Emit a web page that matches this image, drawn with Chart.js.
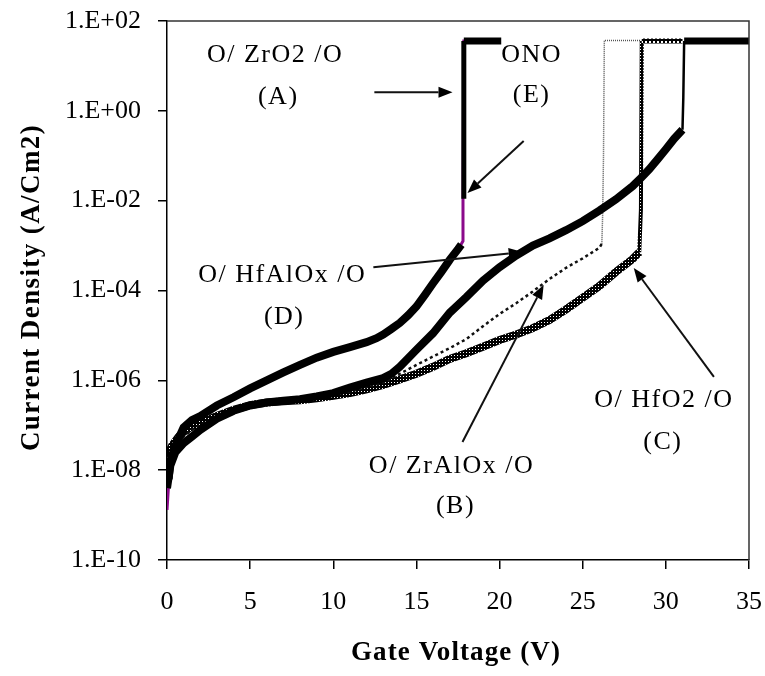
<!DOCTYPE html>
<html>
<head>
<meta charset="utf-8">
<script src="https://cdn.jsdelivr.net/npm/chart.js@4.4.1/dist/chart.umd.min.js"></script>
<style>
  html, body { margin: 0; padding: 0; background: #fff; }
  #wrap { width: 765px; height: 676px; }
</style>
</head>
<body>
<div id="wrap"><canvas id="c" width="765" height="676"></canvas></div>
<script>
// Gate voltage (V) and current density (A/cm2) for each gate stack
const vA = [0,0.1,0.2,0.5,1,1.5,2,3,4,5,6,7,8,9,10,11,12,12.6,13,13.5,14,14.5,15,15.5,16,16.5,17,17.5,17.7,17.85,17.85,20.1];
const jA = [1.1e-9,6.3e-9,1.6e-8,3.5e-8,8.9e-8,1.3e-7,1.6e-7,2.75e-7,4.2e-7,6.6e-7,1.0e-6,1.5e-6,2.2e-6,3.2e-6,4.3e-6,5.5e-6,7.1e-6,8.7e-6,1.05e-5,1.4e-5,1.9e-5,2.8e-5,4.4e-5,7.9e-5,1.45e-4,2.6e-4,4.8e-4,8.3e-4,1.05e-3,1.1e-2,36,36];

const vB = [0,0.3,0.7,1,1.5,2,3,4,5,6,7,8,9,10,11,12,13,14,15,16,17,18,19,20,21,22,23,24,25,26,26.15,26.2,26.25,26.3,28.5];
const jB = [1.0e-8,2.0e-8,4.0e-8,5.6e-8,7.9e-8,1.0e-7,1.6e-7,2.2e-7,2.8e-7,3.3e-7,3.5e-7,3.8e-7,4.2e-7,4.8e-7,5.6e-7,7.1e-7,8.9e-7,1.4e-6,2.2e-6,3.4e-6,5.2e-6,8.3e-6,1.6e-5,3.0e-5,5.2e-5,9.5e-5,1.8e-4,3.2e-4,5.2e-4,8.9e-4,1.1e-3,5.0e-3,1.0e-1,37,37];

const vC = [0,0.3,0.7,1,1.5,2,3,4,5,6,7,8,9,10,11,12,13,14,15,16,17,18,19,20,21,22,23,24,25,26,27,28,28.4,28.5,28.55,31];
const jC = [2.0e-8,3.5e-8,5.6e-8,7.1e-8,9.5e-8,1.12e-7,1.6e-7,2.2e-7,2.8e-7,3.2e-7,3.4e-7,3.6e-7,4.0e-7,4.5e-7,5.2e-7,6.3e-7,7.9e-7,1.05e-6,1.4e-6,2.0e-6,3.0e-6,4.0e-6,5.6e-6,7.9e-6,1.05e-5,1.45e-5,2.2e-5,3.8e-5,6.9e-5,1.26e-4,2.6e-4,5.0e-4,7.1e-4,6.3e-3,36,36];

const vD = [0,0.2,0.5,1,1.5,2,3,4,5,6,7,8,9,10,11,12,13,13.5,14,15,16,17,18,19,20,21,22,23,24,25,26,27,28,28.5,29,29.5,30,30.5,31,31.05,31.1,35];
const jD = [4.0e-9,1.26e-8,2.5e-8,4.0e-8,5.6e-8,7.9e-8,1.4e-7,2.1e-7,2.75e-7,3.2e-7,3.5e-7,3.8e-7,4.4e-7,5.2e-7,6.9e-7,8.9e-7,1.12e-6,1.4e-6,2.0e-6,4.8e-6,1.12e-5,3.2e-5,7.1e-5,1.66e-4,3.3e-4,6.0e-4,1.0e-3,1.45e-3,2.2e-3,3.5e-3,6.0e-3,1.07e-2,2.1e-2,3.2e-2,5.0e-2,8.3e-2,1.4e-1,2.4e-1,3.8e-1,2.0,36,36];

const vE = [0,0.2,1,2,3,5,7,9,11,13,14,15,16,17,17.5,17.8,17.8,17.85,19.5];
const jE = [1.3e-9,2.0e-8,8.5e-8,1.55e-7,2.7e-7,6.5e-7,1.5e-6,3.1e-6,5.4e-6,1.0e-5,1.85e-5,4.3e-5,1.4e-4,4.7e-4,8.1e-4,1.26e-3,1.1e-2,36,36];

const yTickValues = [1e-10,1e-8,1e-6,1e-4,1e-2,1,1e2];
const yTickLabels = ['1.E-10','1.E-08','1.E-06','1.E-04','1.E-02','1.E+00','1.E+02'];
const xTickLabels = ['0','5','10','15','20','25','30','35'];

const pts = (v, j) => v.map((x, i) => ({ x: x, y: j[i] }));

// small black tile with white specks, used for the hatched-marker curve
function hatch(size, holes) {
  const c = document.createElement('canvas');
  c.width = size; c.height = size;
  const g = c.getContext('2d');
  g.fillStyle = '#000'; g.fillRect(0, 0, size, size);
  g.fillStyle = '#fff';
  holes.forEach(h => g.fillRect(h[0], h[1], 1, 1));
  return g.createPattern(c, 'repeat');
}
const hatchBand = hatch(3, [[1, 1]]);
const hatchCap = hatch(4, [[1, 1], [2, 1], [1, 2], [2, 2]]);

const jump = ctx => ctx.p1.parsed.y / ctx.p0.parsed.y > 4;
const flatTop = ctx => ctx.p0.parsed.y > 10 && ctx.p1.parsed.y > 10;

const SERIF = '"Liberation Serif", "Times New Roman", serif';

// text labels and pointer arrows, placed in data coordinates
const notes = [
  { text: 'O/ ZrO2 /O', x: 6.5, y: 17.5 },
  { text: '(A)', x: 6.69, y: 2.03 },
  { text: 'ONO', x: 21.93, y: 17.5 },
  { text: '(E)', x: 21.93, y: 2.25 },
  { text: 'O/ HfAlOx /O', x: 6.93, y: 2.2e-4 },
  { text: '(D)', x: 7.05, y: 2.57e-5 },
  { text: 'O/ HfO2 /O', x: 29.88, y: 3.66e-7 },
  { text: '(C)', x: 29.82, y: 4.25e-8 },
  { text: 'O/ ZrAlOx /O', x: 17.11, y: 1.24e-8 },
  { text: '(B)', x: 17.35, y: 1.6e-9 }
];
const arrows = [
  { from: [12.47, 2.6], to: [17.17, 2.6] },
  { from: [21.45, 0.213], to: [18.07, 0.0148] },
  { from: [12.41, 3.3e-4], to: [21.39, 7.2e-4] },
  { from: [32.89, 1.19e-6], to: [28.07, 3.17e-4] },
  { from: [17.77, 4.25e-8], to: [22.65, 1.33e-4] }
];
const xTitle = 'Gate Voltage (V)';
const yTitle = 'Current Density (A/Cm2)';

const annotate = {
  id: 'annotate',
  afterDatasetsDraw(chart) {
    const { ctx, scales: { x, y }, chartArea: a } = chart;
    ctx.save();
    // frame: top and right edges of the plot box
    ctx.strokeStyle = '#333';
    ctx.lineWidth = 1.5;
    ctx.beginPath();
    ctx.moveTo(a.left, a.top);
    ctx.lineTo(a.right, a.top);
    ctx.lineTo(a.right, a.bottom);
    ctx.stroke();

    ctx.fillStyle = '#000';
    ctx.font = '26px ' + SERIF;
    ctx.textAlign = 'center';
    ctx.textBaseline = 'middle';
    if ('letterSpacing' in ctx) ctx.letterSpacing = '1.5px';
    notes.forEach(n => ctx.fillText(n.text, x.getPixelForValue(n.x), y.getPixelForValue(n.y)));

    // axis titles
    ctx.font = 'bold 27px ' + SERIF;
    if ('letterSpacing' in ctx) ctx.letterSpacing = '1.1px';
    ctx.fillText(xTitle, (a.left + a.right) / 2 - 2, chart.height - 23);
    ctx.save();
    ctx.translate(32, (a.top + a.bottom) / 2 - 3);
    ctx.rotate(-Math.PI / 2);
    if ('letterSpacing' in ctx) ctx.letterSpacing = '1.4px';
    ctx.fillText(yTitle, 0, 0);
    ctx.restore();
    if ('letterSpacing' in ctx) ctx.letterSpacing = '0px';

    ctx.strokeStyle = '#111';
    ctx.lineWidth = 2;
    arrows.forEach(ar => {
      const x0 = x.getPixelForValue(ar.from[0]), y0 = y.getPixelForValue(ar.from[1]);
      const x1 = x.getPixelForValue(ar.to[0]), y1 = y.getPixelForValue(ar.to[1]);
      const ang = Math.atan2(y1 - y0, x1 - x0);
      const L = 14, W = 5.5;
      const bx = x1 - L * Math.cos(ang), by = y1 - L * Math.sin(ang);
      ctx.beginPath();
      ctx.moveTo(x0, y0);
      ctx.lineTo(bx, by);
      ctx.stroke();
      ctx.beginPath();
      ctx.moveTo(x1, y1);
      ctx.lineTo(bx + W * Math.sin(ang), by - W * Math.cos(ang));
      ctx.lineTo(bx - W * Math.sin(ang), by + W * Math.cos(ang));
      ctx.closePath();
      ctx.fill();
    });
    ctx.restore();
  }
};

new Chart(document.getElementById('c'), {
  type: 'line',
  data: {
    datasets: [
      {
        label: 'O/ ZrO2 /O (A)',
        data: pts(vA, jA),
        borderColor: '#000',
        borderWidth: 8,
        segment: {
          // the short jump just before breakdown is left to the ONO trace underneath
          borderColor: ctx => (jump(ctx) && ctx.p0.parsed.y < 0.005) ? 'rgba(0,0,0,0)' : undefined,
          borderWidth: ctx => flatTop(ctx) ? 7 : (jump(ctx) ? 5 : undefined)
        }
      },
      {
        label: 'O/ HfAlOx /O (D)',
        data: pts(vD, jD),
        borderColor: '#000',
        borderWidth: 8,
        segment: {
          borderWidth: ctx => flatTop(ctx) ? 7 : (jump(ctx) ? 2.5 : undefined)
        }
      },
      {
        label: 'O/ ZrAlOx /O (B)',
        data: pts(vB, jB),
        borderColor: '#111',
        borderWidth: 2.5,
        borderDash: [3, 3],
        segment: {
          borderColor: ctx => (flatTop(ctx) || jump(ctx)) ? '#555' : undefined,
          borderWidth: ctx => (flatTop(ctx) || jump(ctx)) ? 1.5 : undefined,
          borderDash: ctx => (flatTop(ctx) || jump(ctx)) ? [1, 1] : undefined
        }
      },
      {
        label: 'O/ HfO2 /O (C)',
        data: pts(vC, jC),
        borderColor: hatchBand,
        borderWidth: 8,
        segment: {
          borderColor: ctx => flatTop(ctx) ? hatchCap : undefined,
          borderWidth: ctx => flatTop(ctx) ? 5 : (jump(ctx) ? 4 : undefined)
        }
      },
      {
        label: 'ONO (E)',
        data: pts(vE, jE),
        borderColor: '#8b0a8b',
        borderWidth: 3
      }
    ]
  },
  options: {
    responsive: false,
    devicePixelRatio: 1,
    animation: false,
    events: [],
    layout: { padding: { left: 0, top: 21, right: 16, bottom: 0 } },
    elements: {
      point: { radius: 0, hoverRadius: 0 },
      line: { tension: 0, borderJoinStyle: 'miter', borderCapStyle: 'butt' }
    },
    plugins: {
      legend: { display: false },
      tooltip: { enabled: false }
    },
    scales: {
      x: {
        type: 'linear',
        min: 0,
        max: 35,
        afterFit: s => { s.height = 116; s.paddingLeft = 0; s.paddingRight = 0; },
        ticks: {
          stepSize: 5,
          padding: 18,
          color: '#000',
          font: { family: SERIF, size: 26 },
          callback: (v, i) => xTickLabels[i]
        },
        grid: { display: true, drawOnChartArea: false, drawTicks: true, tickLength: 9, color: '#000', lineWidth: 1.5 },
        border: { display: true, color: '#000', width: 1.5 }
      },
      y: {
        type: 'logarithmic',
        min: 1e-10,
        max: 1e2,
        afterFit: s => { s.width = 167; s.paddingTop = 0; s.paddingBottom = 0; },
        afterBuildTicks: s => { s.ticks = yTickValues.map(v => ({ value: v })); },
        ticks: {
          autoSkip: false,
          padding: 17,
          color: '#000',
          font: { family: SERIF, size: 26 },
          callback: (v, i) => yTickLabels[i]
        },
        grid: { display: true, drawOnChartArea: false, drawTicks: true, tickLength: 9, color: '#000', lineWidth: 1.5 },
        border: { display: true, color: '#000', width: 1.5 }
      }
    }
  },
  plugins: [annotate]
});
</script>
</body>
</html>
